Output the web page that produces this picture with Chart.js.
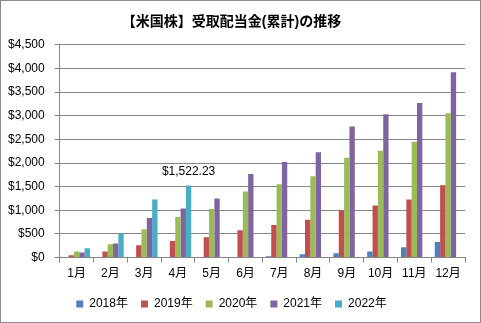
<!DOCTYPE html>
<html>
<head>
<meta charset="utf-8">
<script src="https://cdn.jsdelivr.net/npm/chart.js@4.4.0/dist/chart.umd.min.js"></script>
<style>
  html, body { margin: 0; padding: 0; background: #fff; }
  #wrap { width: 481px; height: 323px; box-sizing: border-box; border: 1px solid #8c8c8c; }
  canvas { display: block; }
</style>
</head>
<body>
<div id="wrap"><canvas id="chart" width="479" height="321"></canvas></div>
<script>
const months = ['1月', '2月', '3月', '4月', '5月', '6月', '7月', '8月', '9月', '10月', '11月', '12月'];
const years = ['2018年', '2019年', '2020年', '2021年', '2022年'];
const y2018 = [null, null, null, null, null, null, 30, 70, 90, 130, 220, 330];
const y2019 = [50, 130, 260, 350, 430, 580, 690, 800, 1000, 1100, 1230, 1530];
const y2020 = [130, 280, 600, 860, 1030, 1400, 1550, 1720, 2110, 2260, 2450, 3050];
const y2021 = [110, 300, 840, 1040, 1250, 1770, 2020, 2230, 2770, 3030, 3270, 3920];
const y2022 = [200, 510, 1230, 1522.23, null, null, null, null, null, null, null, null];
const yTicks = [0, 500, 1000, 1500, 2000, 2500, 3000, 3500, 4000, 4500];

const colors = ['#4F81BD', '#C0504D', '#9BBB59', '#8064A2', '#4BACC6'];
const font = "'Liberation Sans', 'Noto Sans CJK JP', sans-serif";

// label over the April 2022 bar
const pointLabel = {
    id: 'pointLabel',
    afterDatasetsDraw(chart) {
        const bar = chart.getDatasetMeta(4).data[3];
        const v = y2022[3];
        const c = chart.ctx;
        c.save();
        c.font = '12px ' + font;
        c.fillStyle = '#000';
        c.textAlign = 'center';
        c.textBaseline = 'bottom';
        c.fillText('$' + v.toLocaleString('en-US', {minimumFractionDigits: 2}), bar.x, bar.y - 8);
        c.restore();
    }
};

const datasets = [y2018, y2019, y2020, y2021, y2022].map((d, i) => ({
    label: years[i],
    data: d,
    backgroundColor: colors[i],
    borderWidth: 0,
    barPercentage: 1,
    categoryPercentage: 0.79
}));

new Chart(document.getElementById('chart'), {
    type: 'bar',
    data: { labels: months, datasets: datasets },
    plugins: [pointLabel],
    options: {
        responsive: false,
        animation: false,
        layout: { padding: { left: -3, right: 15, top: 0, bottom: 2 } },
        scales: {
            x: {
                grid: { drawOnChartArea: false, offset: true, tickLength: 5, color: '#868686' },
                border: { color: '#868686' },
                ticks: { color: '#000', font: { family: font, size: 12 }, padding: 4 }
            },
            y: {
                min: 0,
                max: 4500,
                afterBuildTicks: axis => { axis.ticks = yTicks.map(v => ({ value: v })); },
                grid: { color: '#868686', tickLength: 5 },
                border: { color: '#868686' },
                ticks: {
                    color: '#000',
                    font: { family: font, size: 12 },
                    padding: 10,
                    callback: v => '$' + v.toLocaleString('en-US')
                }
            }
        },
        plugins: {
            title: {
                display: true,
                text: '【米国株】受取配当金(累計)の推移',
                color: '#000',
                font: { family: font, size: 14, weight: 'bold' },
                padding: { top: 13, bottom: 14 }
            },
            legend: {
                position: 'bottom',
                labels: {
                    color: '#000',
                    font: { family: font, size: 12 },
                    boxWidth: 7,
                    boxHeight: 7,
                    padding: 13
                }
            },
            tooltip: { enabled: false }
        }
    }
});
</script>
</body>
</html>
